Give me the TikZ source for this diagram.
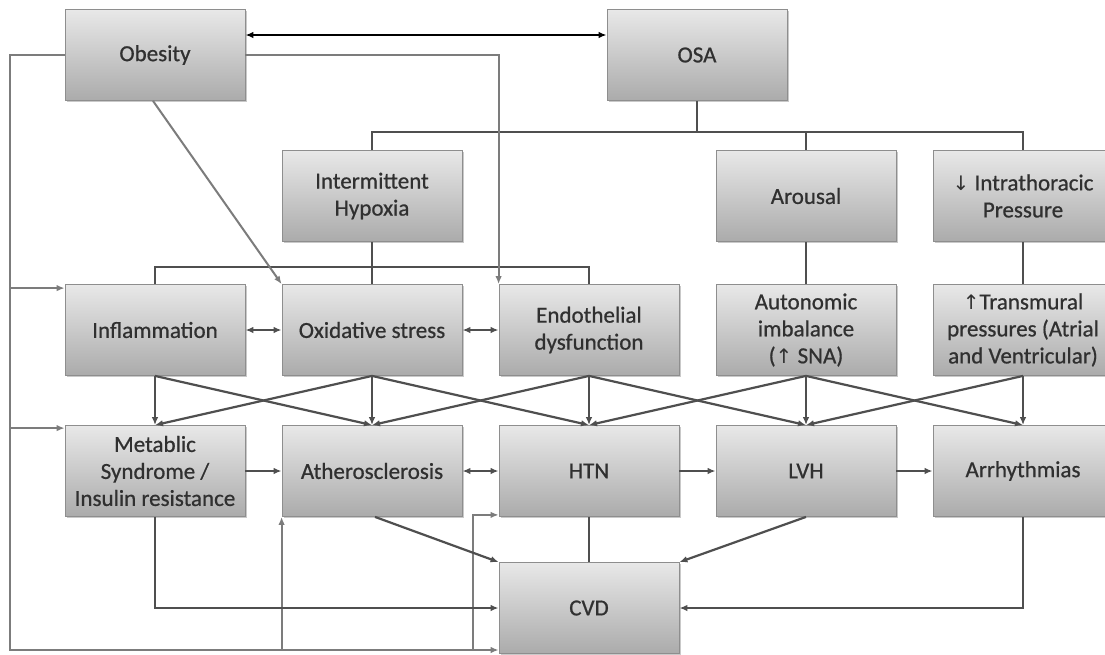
\documentclass[tikz,border=0pt]{standalone}
\usepackage{fontspec}
\setmainfont{Carlito}
\newfontfamily\boxfont{Carlito}[FakeBold=0.7]
\newfontfamily\arrowfont{DejaVu Sans}
\usetikzlibrary{arrows.meta,shadows}
\definecolor{boxtop}{HTML}{E8E8E8}
\definecolor{boxbot}{HTML}{ABABAB}
\definecolor{boxline}{HTML}{8E8E8E}
\definecolor{lnk}{HTML}{4F4F4F}
\definecolor{lnklight}{HTML}{7C7C7C}
\definecolor{txt}{HTML}{303030}
\begin{document}
\begin{tikzpicture}[x=1pt,y=-1pt,
  box/.style={draw=boxline, line width=0.8pt, top color=boxtop, bottom color=boxbot,
    minimum width=180pt, minimum height=91pt, inner sep=2pt, align=center,
    font=\boxfont\fontsize{23}{27}\selectfont, text=txt,
    drop shadow={shadow xshift=1.5pt, shadow yshift=-1.5pt, opacity=0.35, fill=black!60}},
  link/.style={draw=lnk, line width=2.2pt},
  lightlink/.style={draw=lnklight, line width=2pt},
  tip/.style={-{Latex[length=8pt,width=6.5pt]}},
  bitip/.style={{Latex[length=8pt,width=6.5pt]}-{Latex[length=8pt,width=6.5pt]}}
]
\fill[white] (0,0) rectangle (1105,654);
\useasboundingbox (0,0) rectangle (1105,654);

% row 1
\node[box] (obesity) at (155,55) {Obesity};
\node[box] (osa) at (697,55) {OSA};
% row 2
\node[box] (hyp) at (372,196) {Intermittent\\Hypoxia};
\node[box] (arousal) at (806,196) {Arousal};
\node[box] (itp) at (1023,196) {{\arrowfont\fontsize{20}{27}\selectfont ↓} Intrathoracic\\Pressure};
% row 3
\node[box] (infl) at (155,330) {Inflammation};
\node[box] (oxid) at (372,330) {Oxidative stress};
\node[box] (endo) at (589,330) {Endothelial\\dysfunction};
\node[box] (auton) at (806,330) {Autonomic\\imbalance\\({\arrowfont\fontsize{20}{27}\selectfont ↑} SNA)};
\node[box] (trans) at (1023,330) {{\arrowfont\fontsize{20}{27}\selectfont ↑}Transmural\\pressures (Atrial\\and Ventricular)};
% row 4
\node[box] (metab) at (155,471) {Metablic\\Syndrome /\\Insulin resistance};
\node[box] (ather) at (372,471) {Atherosclerosis};
\node[box] (htn) at (589,471) {HTN};
\node[box] (lvh) at (806,471) {LVH};
\node[box] (arrh) at (1023,471) {Arrhythmias};
% bottom
\node[box] (cvd) at (589,608) {CVD};

% helper coordinates
\coordinate (bus) at (0,132);
\coordinate (bar) at (0,267);
\coordinate (L) at (10,0);
\coordinate (bot) at (0,650);
\coordinate (X473) at (473,0);
\coordinate (inflin) at ([yshift=-4pt]infl.north west);
\coordinate (metabin) at ([yshift=-3pt]metab.north west);
\coordinate (htnin) at ([yshift=2pt]htn.south west);

% Obesity <-> OSA
\draw[line width=2.4pt, black, bitip] ([yshift=20pt]obesity.east) -- ([yshift=20pt]osa.west);

% OSA bus
\draw[link] (osa.south) -- (osa.south |- bus);
\draw[link] (hyp.north) -- (hyp.north |- bus) -- (itp.north |- bus) -- (itp.north);
\draw[link] (arousal.north) -- (arousal.north |- bus);

% row 2 -> row 3
\draw[link] (infl.north) -- (infl.north |- bar) -- (endo.north |- bar) -- (endo.north);
\draw[link] (hyp.south) -- (oxid.north);
\draw[link] (arousal.south) -- (auton.north);
\draw[link] (itp.south) -- (trans.north);

% Obesity outer links
\draw[lightlink, tip] (obesity.west) -- (obesity.west -| L) -- (L |- bot) -- (cvd.west |- bot);
\draw[lightlink, tip] (L |- inflin) -- (inflin);
\draw[lightlink, tip] (L |- metabin) -- (metabin);
\draw[lightlink, tip] (ather.south west |- bot) -- (ather.south west);
\draw[lightlink, tip] (X473 |- bot) -- (X473 |- htnin) -- (htnin);
\draw[lightlink, tip] (obesity.east) -- (endo.north west |- obesity.east) -- (endo.north west);
\draw[lightlink, tip] ([xshift=-2pt]obesity.south) -- (oxid.north west);

% row 3 horizontal
\draw[link, bitip] (infl.east) -- (oxid.west);
\draw[link, bitip] (oxid.east) -- (endo.west);

% row 3 -> row 4 crossing
\foreach \a/\b in {infl/metab, infl/ather,
                   oxid/metab, oxid/ather, oxid/htn,
                   endo/ather, endo/htn, endo/lvh,
                   auton/htn, auton/lvh, auton/arrh,
                   trans/lvh, trans/arrh}
  \draw[link, tip] (\a.south) -- (\b.north);

% row 4 horizontal
\draw[link, tip] (metab.east) -- (ather.west);
\draw[link, bitip] (ather.east) -- (htn.west);
\draw[link, tip] (htn.east) -- (lvh.west);
\draw[link, tip] (lvh.east) -- (arrh.west);

% row 4 -> CVD
\draw[link, tip] (metab.south) |- (cvd.west);
\draw[link, tip] ([xshift=3pt]ather.south) -- (cvd.north west);
\draw[link] (htn.south) -- (cvd.north);
\draw[link, tip] (lvh.south) -- (cvd.north east);
\draw[link, tip] (arrh.south) |- (cvd.east);
\end{tikzpicture}
\end{document}
